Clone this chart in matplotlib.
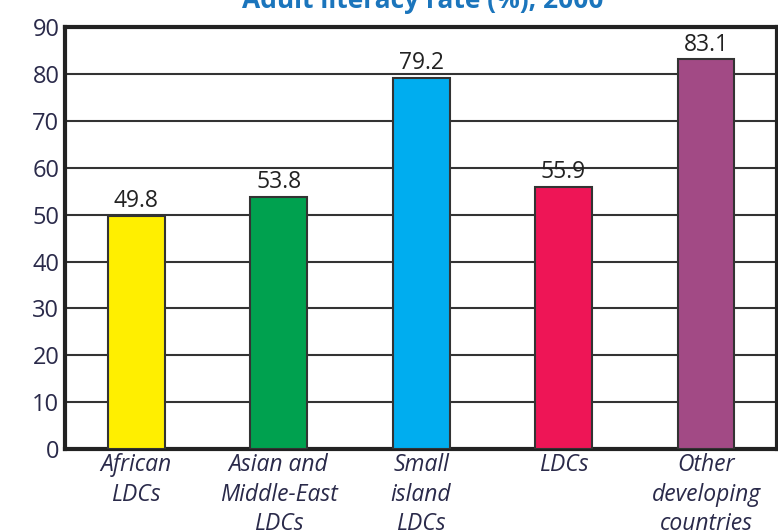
import matplotlib
matplotlib.use("Agg")
import matplotlib.pyplot as plt

categories = ["African\nLDCs", "Asian and\nMiddle-East\nLDCs", "Small\nisland\nLDCs", "LDCs", "Other\ndeveloping\ncountries"]
values = [49.8, 53.8, 79.2, 55.9, 83.1]
value_labels = ["49.8", "53.8", "79.2", "55.9", "83.1"]
colors = ["#FFEF00", "#00A14F", "#00ADEF", "#EE1556", "#A24A85"]
yticks = [0, 10, 20, 30, 40, 50, 60, 70, 80, 90]
title = "Adult literacy rate (%), 2000"

plt.rcParams['font.family'] = ['Open Sans', 'DejaVu Sans']

fig = plt.figure(figsize=(7.78, 5.32), dpi=100)
ax = fig.add_axes([0.0835, 0.156, 0.9155, 0.793])

x = list(range(len(categories)))
ax.set_axisbelow(True)
ax.yaxis.grid(True, color="#333333", linewidth=1.5)
bars = ax.bar(x, values, width=0.4, color=colors, edgecolor="#333333", linewidth=1.5, zorder=3)
for xi, v, lab in zip(x, values, value_labels):
    ax.text(xi, v + 0.6, lab, ha="center", va="bottom", fontsize=16.5, color="#222222")

ax.set_xlim(-0.5, 4.5)
ax.set_ylim(0, 90)
ax.set_yticks(yticks)
ax.set_yticklabels([str(t) for t in yticks], fontsize=17, color="#2a2a4a")
ax.set_xticks(x)
ax.set_xticklabels(categories, fontsize=16.5, style="italic", color="#2a2a4a", linespacing=1.3)
ax.tick_params(axis="both", length=0)
ax.tick_params(axis="y", pad=4)
ax.tick_params(axis="x", pad=3)
for s in ax.spines.values():
    s.set_linewidth(3)
    s.set_color("#222222")

fig.text(0.543, 1 - 8 / 532, title, ha="center", va="baseline", fontsize=19, fontweight="bold", color="#1B75BC")

fig.savefig("out.png", dpi=100)
